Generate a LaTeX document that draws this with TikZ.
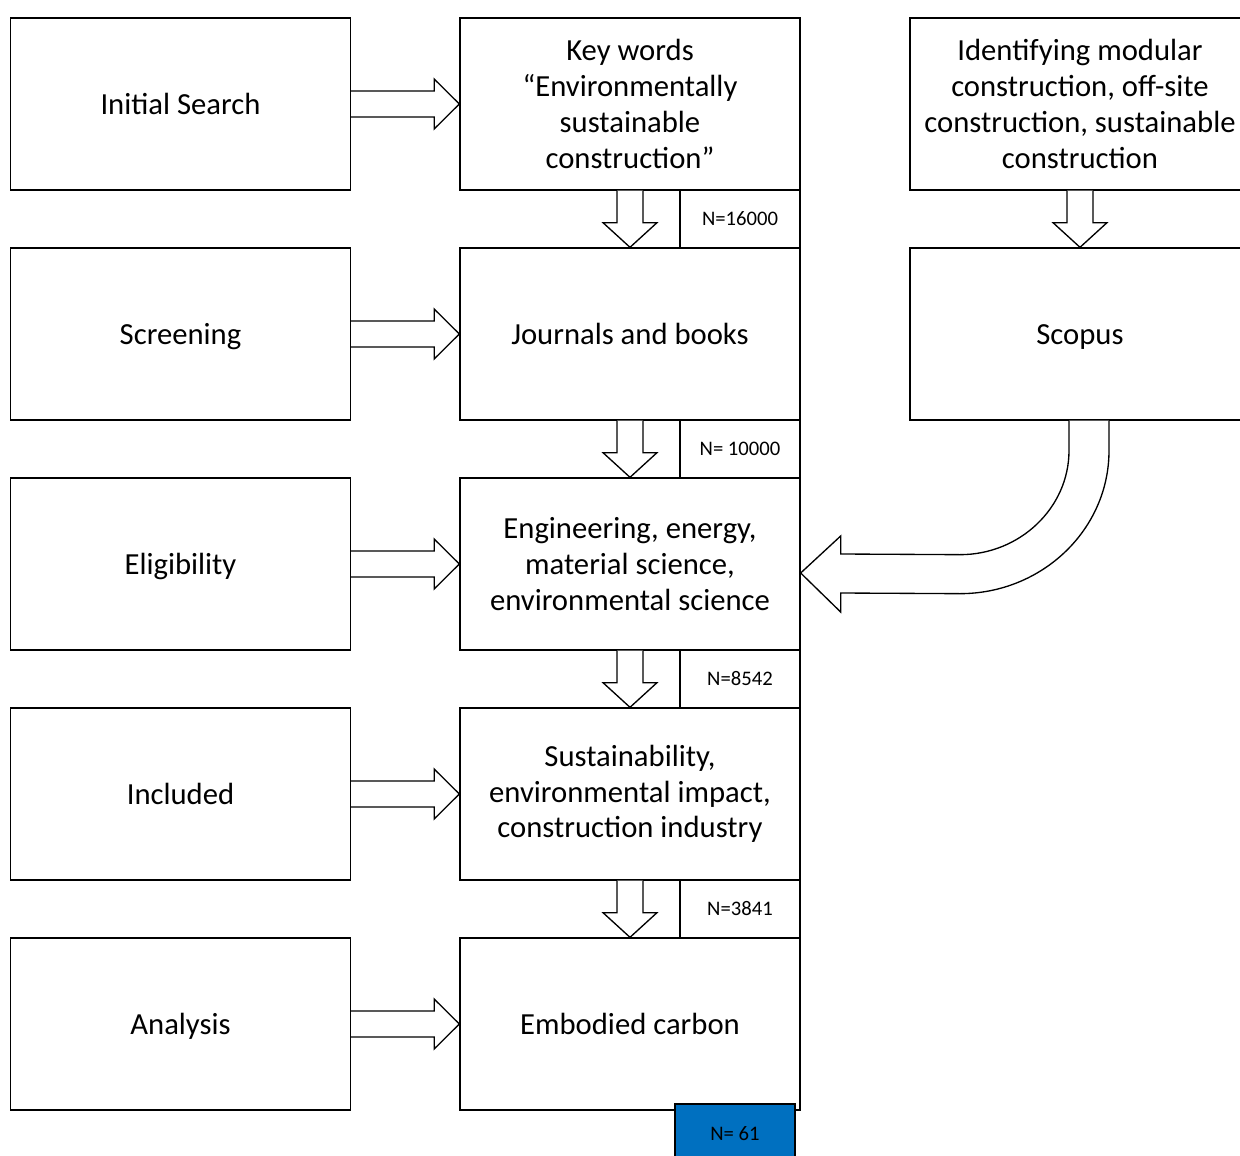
\documentclass[tikz,border=0pt]{standalone}
\usepackage{fontspec}
\setmainfont{Carlito}
\usetikzlibrary{calc}
\definecolor{nblue}{HTML}{0070C0}
\newcommand\bstrut{\rule[-6.8pt]{0pt}{28.8pt}}
\newcommand\nstrut{\rule[-5pt]{0pt}{20.2pt}}
\tikzset{
  box/.style={draw=black, line width=1pt, fill=white, minimum width=255pt, minimum height=129pt, inner sep=0pt, align=center, font=\fontsize{23}{26.8}\selectfont},
  nbox/.style={draw=black, line width=1pt, fill=white, minimum width=90pt, minimum height=43.5pt, inner sep=0pt, font=\fontsize{15.5}{18}\selectfont},
  blk/.style={draw=black, line width=1pt, fill=white, line join=miter},
}
\newcommand\hblock[2]{\draw[blk] ($(#1.east)+(0,-13)$) -- ($(#1.east)+(83,-13)$) -- ($(#1.east)+(83,-25)$) -- (#2.west) -- ($(#1.east)+(83,25)$) -- ($(#1.east)+(83,13)$) -- ($(#1.east)+(0,13)$);}
\newcommand\vblock[2]{\draw[blk] ($(#1.south)+(-13,0)$) -- ($(#1.south)+(-13,32)$) -- ($(#1.south)+(-27,32)$) -- (#2.north) -- ($(#1.south)+(27,32)$) -- ($(#1.south)+(13,32)$) -- ($(#1.south)+(13,0)$);}
\begin{document}
\begin{tikzpicture}[x=0.75pt,y=-0.75pt]
\useasboundingbox[fill=white] (0,0) rectangle (1240,1156);
% left column
\node[box] (l1) at (180.5,104) {\bstrut Initial Search};
\node[box] (l2) at (180.5,334) {\bstrut Screening};
\node[box] (l3) at (180.5,564) {\bstrut Eligibility};
\node[box] (l4) at (180.5,794) {\bstrut Included};
\node[box] (l5) at (180.5,1024) {\bstrut Analysis};
% middle column
\node[box] (m1) at (630,104) {Key words\\“Environmentally\\sustainable\\construction”};
\node[box] (m2) at (630,334) {\bstrut Journals and books};
\node[box] (m3) at (630,564) {Engineering, energy,\\material science,\\environmental science};
\node[box] (m4) at (630,794) {Sustainability,\\environmental impact,\\construction industry};
\node[box] (m5) at (630,1024) {\bstrut Embodied carbon};
% right column
\node[box] (r1) at (1080,104) {Identifying modular\\construction, off-site\\construction, sustainable\\construction};
\node[box] (r2) at (1080,334) {\bstrut Scopus};
% horizontal block arrows
\hblock{l1}{m1}
\hblock{l2}{m2}
\hblock{l3}{m3}
\hblock{l4}{m4}
\hblock{l5}{m5}
% vertical block arrows
\vblock{m1}{m2}
\vblock{m2}{m3}
\vblock{m3}{m4}
\vblock{m4}{m5}
\vblock{r1}{r2}
% N boxes
\node[nbox] (n1) at (740,219) {\nstrut N=16000};
\node[nbox] (n2) at (740,449) {\nstrut N= 10000};
\node[nbox] (n3) at (740,679) {\nstrut N=8542};
\node[nbox] (n4) at (740,909) {\nstrut N=3841};
% curved arrow from Scopus to Engineering
\coordinate (tip) at ($(m3.east)+(0,9)$);
\draw[blk] ($(r2.south)+(-11,0)$) -- ($(r2.south)+(-11,30)$)
  .. controls ($(r2.south)+(-11,87)$) and ($(r2.south)+(-60,134)$) .. ($(r2.south)+(-120,134)$)
  -- ($(tip)+(40,-19)$) -- ($(tip)+(40,-37)$) -- (tip) -- ($(tip)+(40,39)$) -- ($(tip)+(40,20)$)
  -- ($(r2.south)+(-120,173)$)
  .. controls ($(r2.south)+(-38,173)$) and ($(r2.south)+(29,109)$) .. ($(r2.south)+(29,30)$)
  -- ($(r2.south)+(29,0)$);
% final count
\node[nbox, fill=nblue, minimum height=45pt] (n5) at (735,1134) {\nstrut N= 61};
\end{tikzpicture}
\end{document}
